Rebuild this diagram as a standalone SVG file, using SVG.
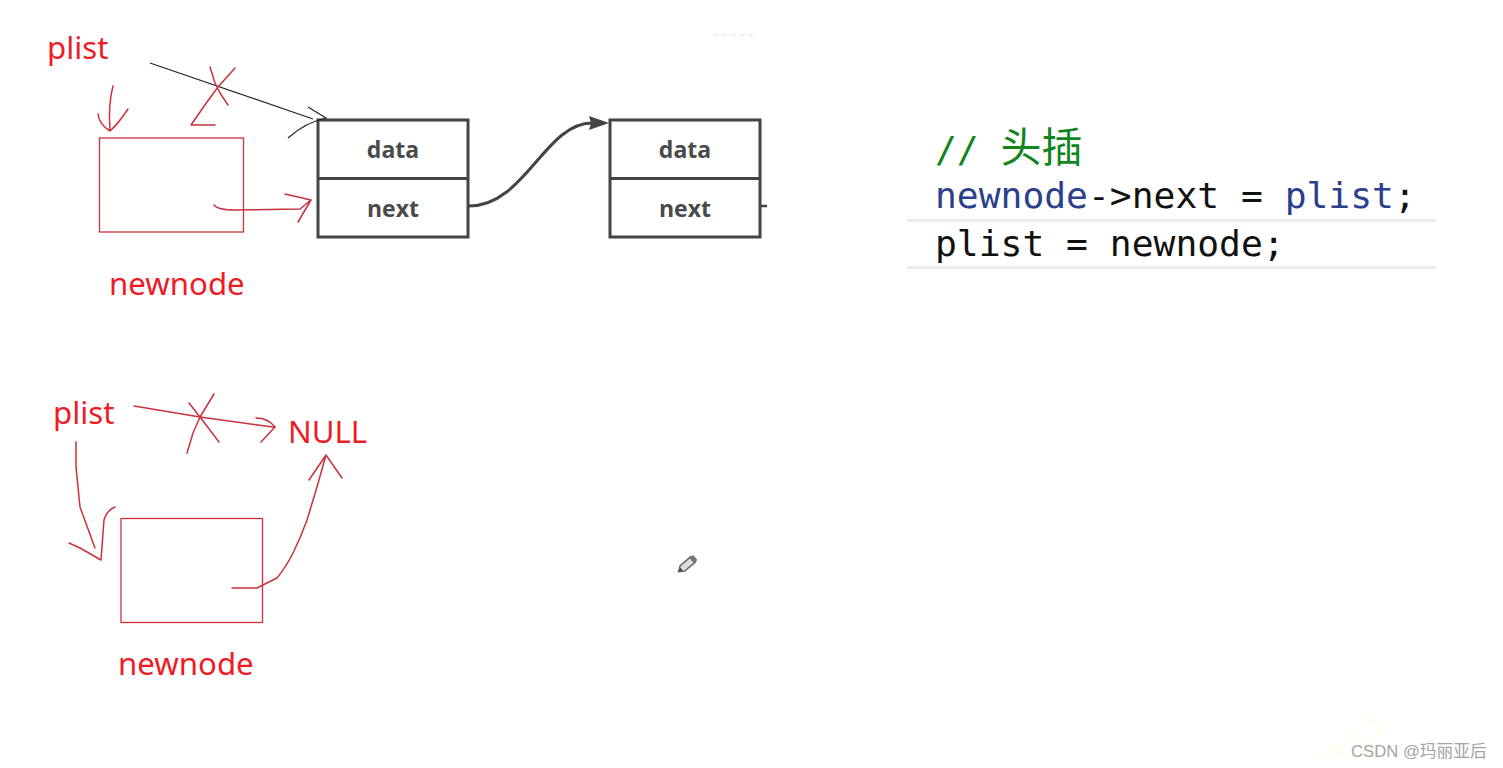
<svg xmlns="http://www.w3.org/2000/svg" width="1503" height="768" viewBox="0 0 1503 768">
<style>
.red{font-family:"Noto Sans","Open Sans","Liberation Sans",sans-serif;font-size:31.200px;fill:#ee1c25}
.box{fill:#fff;stroke:#444;stroke-width:3}
.lbl{font-family:"Open Sans","DejaVu Sans",sans-serif;font-weight:700;font-size:23px;fill:#4a4a4a;text-anchor:middle}
.code{font-family:"DejaVu Sans Mono","Noto Sans CJK SC",monospace;font-size:36.3px;fill:#111}
.blue{fill:#2b3f8c}
.rr{fill:none;stroke:#d2323c;stroke-width:1.3}
.ink{fill:none;stroke:#c8323c;stroke-width:1.5;stroke-linecap:round;stroke-linejoin:round}
.sep{stroke:#ebebf0;stroke-width:3}
.wm{fill:none;stroke:#fefeea;stroke-width:2.5}
</style>
<rect width="1503" height="768" fill="#fff"/>
<g id="watermark-lines">
<path class="wm" d="M1367 713L1382 730L1358 757M1345 730L1360 745M1320 762L1335 745L1346 757"/>
</g>
<line x1="713" y1="35" x2="753" y2="35" stroke="#ececec" stroke-width="1.5" stroke-dasharray="5 4"/>
<g id="label-plist-top"><text class="red" x="47" y="59">plist</text></g>
<g id="newnode-top"><rect class="rr" x="99.5" y="138" width="144" height="94"/></g>
<g id="label-newnode-top"><text class="red" x="109" y="295">newnode</text></g>
<g id="node-1">
<rect class="box" x="318" y="120" width="150" height="117"/>
<line x1="318" y1="178.500" x2="468" y2="178.500" stroke="#444" stroke-width="3"/>
<text class="lbl" x="393" y="158">data</text>
<text class="lbl" x="393" y="216.500">next</text>
</g>
<g id="node-2">
<rect class="box" x="610" y="120" width="150" height="117"/>
<line x1="610" y1="178.500" x2="760" y2="178.500" stroke="#444" stroke-width="3"/>
<text class="lbl" x="685" y="158">data</text>
<text class="lbl" x="685" y="216.500">next</text>
</g>
<g id="label-plist-bottom"><text class="red" x="53" y="424">plist</text></g>
<g id="label-null"><text class="red" x="288" y="443">NULL</text></g>
<g id="newnode-bottom"><rect class="rr" x="121" y="518.500" width="141.500" height="104"/></g>
<g id="label-newnode-bottom"><text class="red" x="118" y="675">newnode</text></g>
<g id="connectors">
<path d="M469 206C525 206 545 123 592 123" fill="none" stroke="#444" stroke-width="3"/>
<path d="M609 123L589 116L591 123L589 130Z" fill="#444"/>
<path d="M760 206H767" stroke="#444" stroke-width="2.500"/>
<path d="M150 63L313 119M308 107L326 118Q306 122 288 138" fill="none" stroke="#222" stroke-width="1.200"/>
<path class="ink" d="M210 67L215 83L220 93L228 105M235 68L218 87L207 102L191 125H215"/>
<path class="ink" d="M113 86Q108 105 110 130M98 114Q99 124 110 131Q118 124 128 109"/>
<path class="ink" d="M214 205Q218 210 235 210L300 209L311 200L285 194M311 200L298 222"/>
<path class="ink" d="M134 406L200 417L273 427M256 418Q268 418 275 427L261 442M214 394L200 417L193 433L187 453M189 403L200 417L219 442"/>
<path class="ink" d="M76 442V467L80 507L95 548M69 543L80 548L101 560L104 520Q107 510 115 507"/>
<path class="ink" d="M232 588H257L277 578Q286 567 293 553Q301 537 307 520L317 487L326 455M309 480L326 455L342 478"/>
</g>
<g id="code">
<text class="code" x="935" y="162" style="fill:#12851f;font-size:36.300px">// <tspan font-size="41" font-family="Noto Sans CJK SC">头插</tspan></text>
<text class="code" x="935" y="208"><tspan class="blue">newnode</tspan>-&gt;next = <tspan class="blue">plist</tspan>;</text>
<line class="sep" x1="907" y1="220.500" x2="1436" y2="220.500"/>
<text class="code" x="935" y="256">plist = newnode;</text>
<line class="sep" x1="907" y1="267.500" x2="1436" y2="267.500"/>
</g>
<g id="pencil" transform="translate(687 564.500) rotate(-40)">
<path d="M-11 0L-6 -3.500H8V3.500H-6Z" fill="#ddd" stroke="#666" stroke-width="1.500"/>
<rect x="6" y="-3.500" width="5" height="7" rx="1.500" fill="#777"/>
<path d="M-11 0L-7 -2V2Z" fill="#444"/>
</g>
<g id="watermark"><text x="1351" y="756.500" font-family="'Liberation Sans','Noto Sans CJK SC',sans-serif" font-size="16.700" fill="#a4a4a4">CSDN @玛丽亚后</text></g>
</svg>
